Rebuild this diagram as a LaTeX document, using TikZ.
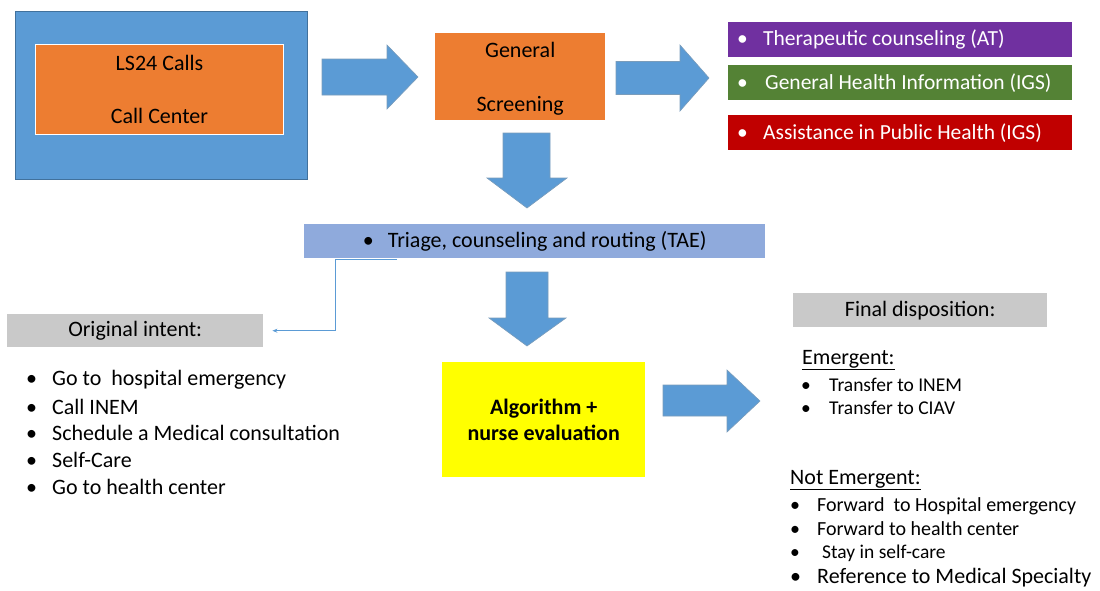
\documentclass[tikz,border=0pt]{standalone}
\usepackage{fontspec}
\setmainfont{Carlito}
\definecolor{ofblue}{RGB}{91,155,213}
\definecolor{ofblueline}{RGB}{65,113,156}
\definecolor{oforange}{RGB}{237,125,49}
\definecolor{ofpurple}{RGB}{112,48,160}
\definecolor{ofgreen}{RGB}{84,130,53}
\definecolor{ofred}{RGB}{192,0,0}
\definecolor{oftriage}{RGB}{143,170,220}
\definecolor{ofgray}{RGB}{201,201,201}
\definecolor{ofyellow}{RGB}{255,255,0}
\usetikzlibrary{arrows.meta,positioning,calc}

\begin{document}
\begin{tikzpicture}[x=1pt, y=-1pt,
  every node/.style={font=\fontsize{22}{26}\selectfont},
  box/.style={anchor=north west, inner sep=0pt, align=center},
  tagbox/.style={anchor=north west, inner xsep=9pt, inner ysep=0pt,
    minimum width=344pt, minimum height=35pt, text=white,
    font=\fontsize{21.5}{26}\selectfont},
  blockarrow/.style={fill=ofblue, draw=ofblueline!70, line width=0.6pt},
  listitem/.style={anchor=west, inner sep=0pt},
  smallitem/.style={listitem, font=\fontsize{19.5}{23}\selectfont},
  link/.style={ofblue, line width=0.8pt}]

\useasboundingbox (0,0) rectangle (1100,590);

% --- Call center ---
\node[box, fill=ofblue, draw=ofblueline, minimum width=292pt, minimum height=168pt] (center) at (15,11) {};
\node[box, fill=oforange, draw=white, line width=1pt, minimum width=248pt, minimum height=90pt,
      font=\fontsize{22}{53}\selectfont] (calls) at (35,44) {LS24 Calls\\Call Center};

% --- General screening ---
\node[box, fill=oforange, minimum width=170pt, minimum height=87pt,
      font=\fontsize{22}{54}\selectfont] (screen) at (435,33) {\rule{0pt}{20pt}General\\Screening};

% Outcomes of screening
\node[tagbox, fill=ofpurple] (therapy) at (728,22)
      {\makebox[326pt][l]{\makebox[26pt][l]{\textbullet}Therapeutic counseling (AT)}};
\node[tagbox, fill=ofgreen] (info) at (728,65)
      {\makebox[326pt][l]{\makebox[28pt][l]{\textbullet}General Health Information (IGS)}};
\node[tagbox, fill=ofred] (public) at (728,115)
      {\makebox[326pt][l]{\makebox[26pt][l]{\textbullet}Assistance in Public Health (IGS)}};

% --- Triage ---
\node[box, fill=oftriage, minimum width=461pt, minimum height=34pt] (triage) at (304,224)
      {\makebox[25pt][l]{\textbullet}Triage, counseling and routing (TAE)};

% --- Original intent ---
\node[box, fill=ofgray, minimum width=256pt, minimum height=33pt] (intent) at (7,314) {Original intent:};
\draw[link, -{Stealth[length=5pt, width=4pt]}] ($(triage.south west)+(93,1)$) -- ($(triage.south west)+(31,1)$)
      |- ([xshift=9pt]intent.east);

\foreach \item [count=\i] in {Go to\ \ hospital emergency, Call INEM, Schedule a Medical consultation, Self-Care, Go to health center}
  \node[listitem] (intent\i) at (26,{380+26.7*(\i-1)}) {\makebox[26pt][l]{\textbullet}\item};

% --- Nurse evaluation ---
\node[box, fill=ofyellow, minimum width=203pt, minimum height=115pt,
      font=\fontsize{22}{26}\selectfont\bfseries] (nurse) at (442,362) {Algorithm +\\nurse evaluation};

% --- Final disposition ---
\node[box, fill=ofgray, minimum width=254pt, minimum height=34pt] (final) at (793,293) {Final disposition:};

\node[listitem] (emerg) at (802,360) {\underline{Emergent:}};
\node[smallitem] (emerg1) at (801,385) {\makebox[28pt][l]{\textbullet}Transfer to INEM};
\node[smallitem] (emerg2) at (801,408) {\makebox[28pt][l]{\textbullet}Transfer to CIAV};

\node[listitem] (notemerg) at (790,480) {\underline{Not Emergent:}};
\node[smallitem, font=\fontsize{20}{24}\selectfont] (notemerg1) at (790,506) {\makebox[27pt][l]{\textbullet}Forward\ \ to Hospital emergency};
\node[smallitem, font=\fontsize{20}{24}\selectfont] (notemerg2) at (790,529) {\makebox[27pt][l]{\textbullet}Forward to health center};
\node[smallitem] (notemerg3) at (790,553) {\makebox[27pt][l]{\textbullet}\hspace{5pt}Stay in self-care};
\node[listitem] (notemerg4) at (790,578) {\makebox[27pt][l]{\textbullet}Reference to Medical Specialty};

% --- Block arrows ---
\draw[blockarrow] (322,59) -- (387,59) -- (387,45) -- (418,77) -- (387,109) -- (387,95) -- (322,95) -- cycle;
\draw[blockarrow] (616,61.5) -- (680,61.5) -- (680,45) -- (709,78) -- (680,111) -- (680,94.5) -- (616,94.5) -- cycle;
\draw[blockarrow] (503,133) -- (550,133) -- (550,178) -- (567,178) -- (527,208) -- (487,178) -- (503,178) -- cycle;
\draw[blockarrow] (506,272) -- (548,272) -- (548,318) -- (566,318) -- (527,346) -- (489,318) -- (506,318) -- cycle;
\draw[blockarrow] (663,385) -- (727,385) -- (727,370) -- (760,401) -- (727,432) -- (727,416) -- (663,416) -- cycle;

\end{tikzpicture}
\end{document}
